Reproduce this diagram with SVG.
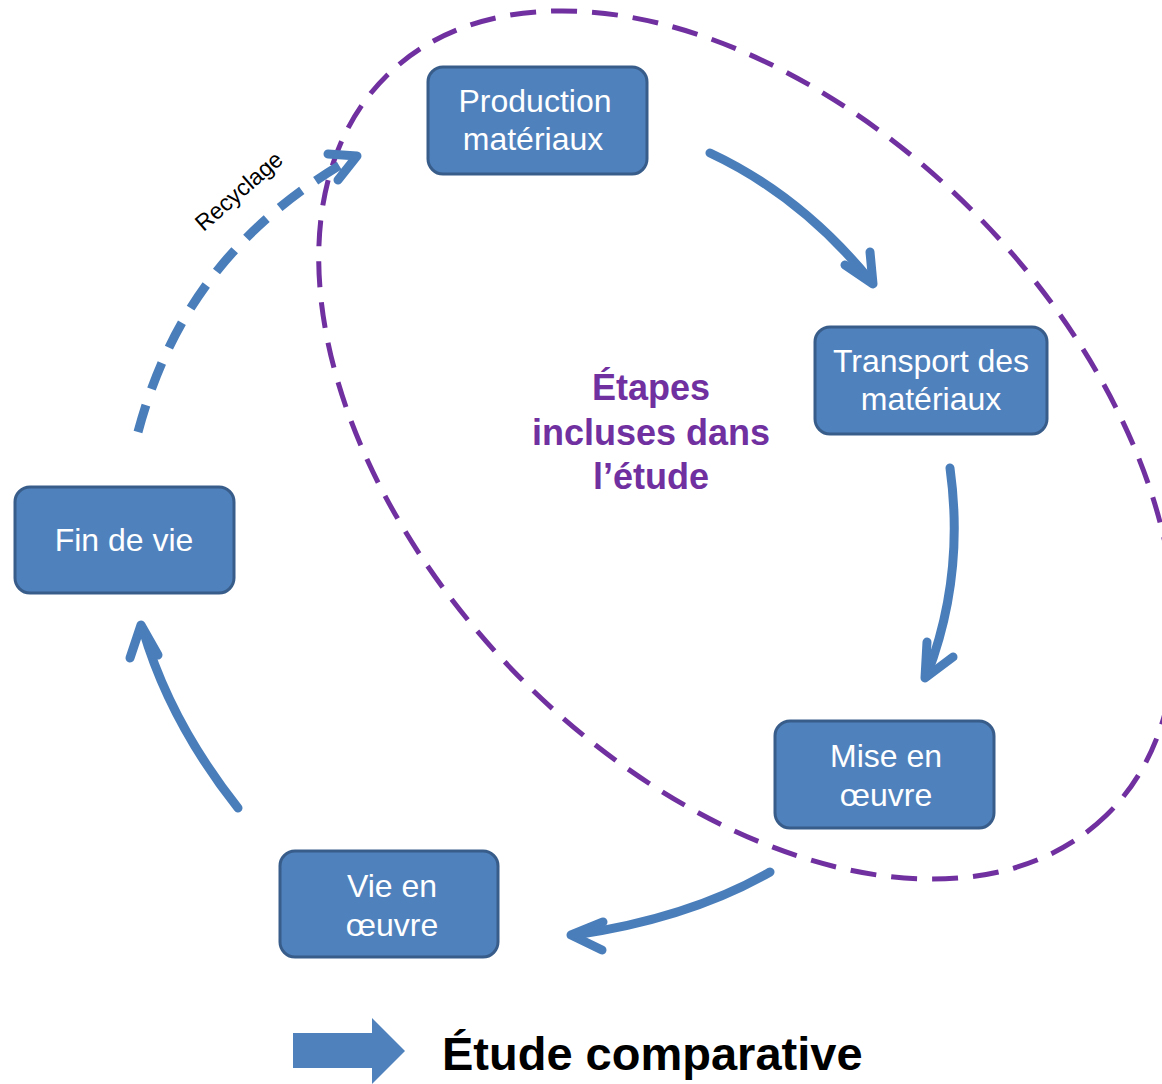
<svg xmlns="http://www.w3.org/2000/svg" width="1162" height="1084" viewBox="0 0 1162 1084">
<style>
.node rect{fill:#4F81BD;stroke:#385D8A;stroke-width:3}
.node text{fill:#fff;font-family:"Liberation Sans",Arial,sans-serif;font-size:32px;text-anchor:middle}
.conn{fill:none;stroke:#4A7EBB;stroke-width:9;stroke-linecap:round;stroke-linejoin:round}
.dash{fill:none;stroke:#4A7EBB;stroke-width:9;stroke-dasharray:28 17}
</style>
<rect width="1162" height="1084" fill="#fff"/>
<ellipse cx="747" cy="445" rx="516" ry="325" transform="rotate(45.9 747 445)" fill="none" stroke="#7030A0" stroke-width="5" stroke-dasharray="26 15"/>
<g id="connectors">
<path class="conn" d="M710,153 Q800,195 870,280"/>
<path class="conn" d="M870,252 L873,284 L845,265"/>
<path class="conn" d="M950,468 C960,540 952,610 927,675"/>
<path class="conn" d="M927,642 L925,678 L953,657"/>
<path class="conn" d="M770,872 Q690,918 575,935"/>
<path class="conn" d="M603,922 L571,935 L602,950"/>
<path class="conn" d="M238,808 Q170,722 143,630"/>
<path class="conn" d="M130,658 L141,625 L158,655"/>
<path class="dash" d="M138,432 C168,320 230,228 352,158"/>
<path class="conn" d="M328,154 L357,156 L338,180"/>
</g>
<text x="244" y="197" transform="rotate(-41 244 197)" font-family="Liberation Sans,Arial,sans-serif" font-size="23" text-anchor="middle" fill="#000">Recyclage</text>
<g id="production" class="node"><rect x="428" y="67" width="219" height="107" rx="15"/><text x="535" y="112">Production</text><text x="533" y="150">matériaux</text></g>
<g id="transport" class="node"><rect x="815" y="327" width="232" height="107" rx="15"/><text x="931" y="372">Transport des</text><text x="931" y="410">matériaux</text></g>
<g id="mise" class="node"><rect x="775" y="721" width="219" height="107" rx="15"/><text x="886" y="767">Mise en</text><text x="886" y="806">œuvre</text></g>
<g id="vie" class="node"><rect x="280" y="851" width="218" height="106" rx="15"/><text x="392" y="897">Vie en</text><text x="392" y="936">œuvre</text></g>
<g id="fin" class="node"><rect x="15" y="487" width="219" height="106" rx="15"/><text x="124" y="551">Fin de vie</text></g>
<g font-family="Liberation Sans,Arial,sans-serif" font-weight="bold" font-size="36" fill="#7030A0" text-anchor="middle">
<text x="651" y="400">Étapes</text><text x="651" y="445">incluses dans</text><text x="651" y="489">l’étude</text>
</g>
<path d="M293,1033 H372 V1018 L405,1051 L372,1084 V1068 H293 Z" fill="#4F81BD"/>
<text x="442" y="1070" font-family="Liberation Sans,Arial,sans-serif" font-weight="bold" font-size="47" fill="#000">Étude comparative</text>
</svg>
